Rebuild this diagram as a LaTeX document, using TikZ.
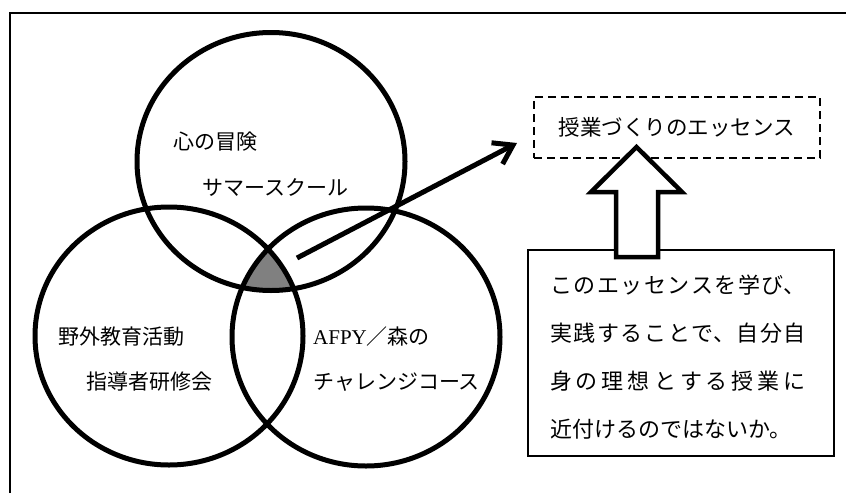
\documentclass[tikz,border=0pt]{standalone}
\usepackage{fontspec}
\setmainfont{Liberation Serif}
\newfontfamily\jp{Noto Sans CJK JP}
\usetikzlibrary{arrows.meta}
\newcommand\jpjust{\XeTeXlinebreaklocale "ja"\XeTeXlinebreakskip=0pt plus 6pt\relax}

\begin{document}
\begin{tikzpicture}[x=1pt,y=-1pt,
        venn/.style={line width=5pt},
        circtext/.style={anchor=west, inner sep=0pt, font=\jp\fontsize{21}{21}\selectfont},
        essbox/.style={draw, line width=2pt, dash pattern=on 8pt off 5pt, minimum width=286pt, minimum height=61pt, font=\jp\fontsize{21.5}{21.5}\selectfont},
        notebox/.style={draw, line width=2.5pt, minimum width=306pt, minimum height=206pt},
        notetext/.style={text width=256pt, align=justify, inner sep=0pt, font=\jp\fontsize{22}{48}\selectfont\jpjust},
        thrust/.style={line width=5pt, -{Straight Barb[length=18pt,width=24pt]}},
        blockarrow/.style={line width=4.5pt, fill=white, line join=miter}]

        \useasboundingbox (0,0) rectangle (846,493);
        \draw[line width=2.5pt, line join=miter] (10,493) -- (10,13) -- (846,13);    % Рамка

        % Общая часть трёх кругов
        \begin{scope}
            \clip (271,161.5) ellipse [x radius=134pt, y radius=129pt];
            \clip (169,336) ellipse [x radius=134pt, y radius=129pt];
            \fill[gray] (366,337) ellipse [x radius=134pt, y radius=129pt];
        \end{scope}

        % Круги
        \foreach \cx/\cy in {271/161.5, 169/336, 366/337}
            \draw[venn] (\cx,\cy) ellipse [x radius=134pt, y radius=129pt];

        % Подписи кругов
        \node[circtext] (adv1)  at (173,142) {心の冒険};
        \node[circtext] (adv2)  at (202,188) {サマースクール};
        \node[circtext] (out1)  at (58,337)  {野外教育活動};
        \node[circtext] (out2)  at (86,382)  {指導者研修会};
        \node[circtext] (afpy1) at (313,337) {{\rmfamily AFPY}／森の};
        \node[circtext] (afpy2) at (313,382) {チャレンジコース};

        % Блоки справа
        \node[essbox]  (ess)  at (677,127.5) {授業づくりのエッセンス};
        \node[notebox] (note) at (681,353) {};
        \node[notetext] (notetxt) at (678,357.5)
            {このエッセンスを学び、\linebreak 実践することで、自分自\linebreak 身の理想とする授業に\linebreak 近付けるのではないか。};

        % Стрелки
        \coordinate (hub) at (297,258);
        \coordinate (aim) at (517,143);
        \draw[thrust] (hub) -- (aim);
        \filldraw[blockarrow] (616,257) -- (616,192) -- (591,192) -- (636.5,147)
            -- (682,192) -- (658,192) -- (658,257) -- cycle;
    \end{tikzpicture}
\end{document}
